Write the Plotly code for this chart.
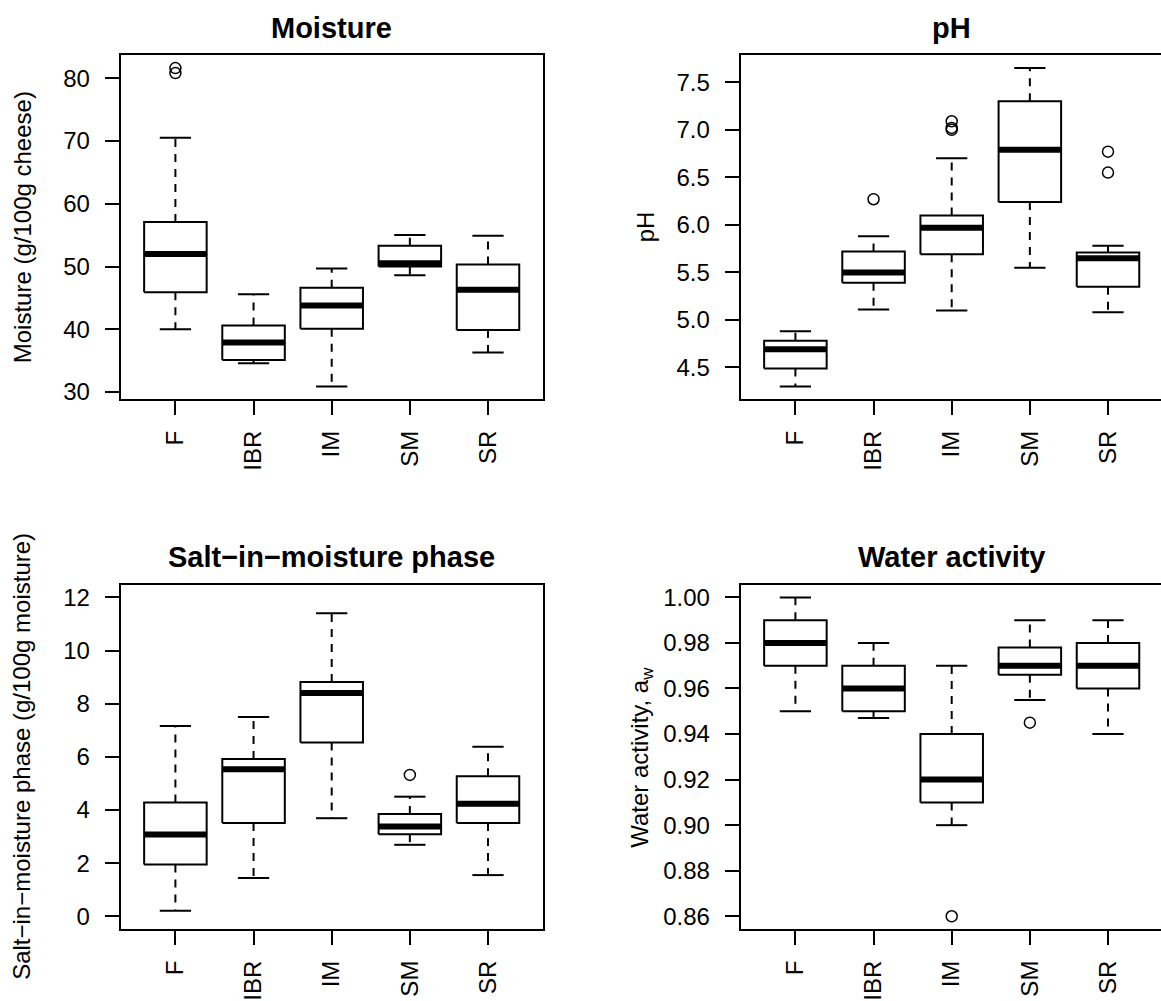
import plotly.graph_objects as go

# ---------------- data ----------------
categories = ["F", "IBR", "IM", "SM", "SR"]

moisture_lower = [40.0, 34.6, 30.9, 48.6, 36.3]
moisture_q1 = [45.9, 35.1, 40.1, 50.0, 39.9]
moisture_median = [52.0, 37.9, 43.8, 50.5, 46.3]
moisture_q3 = [57.1, 40.6, 46.6, 53.3, 50.3]
moisture_upper = [70.5, 45.6, 49.7, 55.0, 54.9]
moisture_outliers = [[80.8, 81.6], [], [], [], []]
moisture_ticks = [30, 40, 50, 60, 70, 80]

ph_lower = [4.30, 5.11, 5.10, 5.55, 5.08]
ph_q1 = [4.49, 5.39, 5.69, 6.24, 5.35]
ph_median = [4.69, 5.50, 5.97, 6.79, 5.65]
ph_q3 = [4.78, 5.72, 6.10, 7.30, 5.71]
ph_upper = [4.88, 5.88, 6.70, 7.65, 5.78]
ph_outliers = [[], [6.27], [7.00, 7.02, 7.09], [], [6.55, 6.77]]
ph_ticks = [4.5, 5.0, 5.5, 6.0, 6.5, 7.0, 7.5]

salt_lower = [0.21, 1.44, 3.69, 2.69, 1.55]
salt_q1 = [1.95, 3.51, 6.54, 3.09, 3.51]
salt_median = [3.08, 5.53, 8.40, 3.38, 4.23]
salt_q3 = [4.28, 5.92, 8.82, 3.85, 5.27]
salt_upper = [7.16, 7.50, 11.40, 4.50, 6.38]
salt_outliers = [[], [], [], [5.32], []]
salt_ticks = [0, 2, 4, 6, 8, 10, 12]
salt_ylim = [0, 12]

aw_lower = [0.950, 0.947, 0.900, 0.955, 0.940]
aw_q1 = [0.970, 0.950, 0.910, 0.966, 0.960]
aw_median = [0.980, 0.960, 0.920, 0.970, 0.970]
aw_q3 = [0.990, 0.970, 0.940, 0.978, 0.980]
aw_upper = [1.000, 0.980, 0.970, 0.990, 0.990]
aw_outliers = [[], [], [0.860], [0.945], []]
aw_ticks = [0.86, 0.88, 0.90, 0.92, 0.94, 0.96, 0.98, 1.00]

# ---------------- layout helpers ----------------
W, H = 1161, 1001
FONT = "Liberation Sans, Arial, sans-serif"
BOXW = 0.8          # R boxwex
STAPLE = 0.4        # staple width (0.5 * boxwex)
TICKFONT = 24
TITLEFONT = 29
ROW2 = 4            # small vertical nudge of the lower row

panels = [
    dict(title="Moisture", ylab="Moisture (g/100g cheese)",
         lo=moisture_lower, q1=moisture_q1, med=moisture_median, q3=moisture_q3,
         hi=moisture_upper, out=moisture_outliers, ticks=moisture_ticks, fmt="d", ylim=None,
         px=(120.7, 542.7, 55, 403), title_y=27, ylab_x=22),
    dict(title="pH", ylab="pH",
         lo=ph_lower, q1=ph_q1, med=ph_median, q3=ph_q3,
         hi=ph_upper, out=ph_outliers, ticks=ph_ticks, fmt=".1f", ylim=None,
         px=(740.7, 1162.7, 55, 403), title_y=27, ylab_x=645),
    dict(title="Salt\u2212in\u2212moisture phase", ylab="Salt\u2212in\u2212moisture phase (g/100g moisture)",
         lo=salt_lower, q1=salt_q1, med=salt_median, q3=salt_q3,
         hi=salt_upper, out=salt_outliers, ticks=salt_ticks, fmt="d", ylim=salt_ylim,
         px=(120.7, 542.7, 586.7 + ROW2, 935.3 + ROW2), title_y=559 + ROW2, ylab_x=22),
    dict(title="Water activity", ylab="Water activity, a<sub>w</sub>",
         lo=aw_lower, q1=aw_q1, med=aw_median, q3=aw_q3,
         hi=aw_upper, out=aw_outliers, ticks=aw_ticks, fmt=".2f", ylim=None,
         px=(740.7, 1162.7, 586.7 + ROW2, 935.3 + ROW2), title_y=559 + ROW2, ylab_x=642),
]

fig = go.Figure()
layout = dict(width=W, height=H, margin=dict(l=0, r=0, t=0, b=0),
              paper_bgcolor="white", plot_bgcolor="white", showlegend=False,
              font=dict(family=FONT, color="black", size=TICKFONT))
annotations = []

n = len(categories)
pos = list(range(1, n + 1))

for k, p in enumerate(panels, start=1):
    xa = "x" if k == 1 else f"x{k}"
    ya = "y" if k == 1 else f"y{k}"

    wx, wy = [], []
    cx, cy = [], []
    bx, by = [], []
    mx, my = [], []
    ox, oy = [], []
    for i, c in enumerate(categories):
        x = pos[i]
        wx += [x, x, None, x, x, None]
        wy += [p["q3"][i], p["hi"][i], None, p["q1"][i], p["lo"][i], None]
        cx += [x - STAPLE / 2, x + STAPLE / 2, None, x - STAPLE / 2, x + STAPLE / 2, None]
        cy += [p["hi"][i], p["hi"][i], None, p["lo"][i], p["lo"][i], None]
        bx += [x - BOXW / 2, x + BOXW / 2, x + BOXW / 2, x - BOXW / 2, x - BOXW / 2, None]
        by += [p["q1"][i], p["q1"][i], p["q3"][i], p["q3"][i], p["q1"][i], None]
        mx += [x - BOXW / 2, x + BOXW / 2, None]
        my += [p["med"][i], p["med"][i], None]
        for v in p["out"][i]:
            ox.append(x)
            oy.append(v)

    fig.add_trace(go.Scatter(x=wx, y=wy, mode="lines", xaxis=xa, yaxis=ya,
                             line=dict(color="black", width=2, dash="8px,7px"), hoverinfo="skip"))
    fig.add_trace(go.Scatter(x=cx, y=cy, mode="lines", xaxis=xa, yaxis=ya,
                             line=dict(color="black", width=2), hoverinfo="skip"))
    fig.add_trace(go.Scatter(x=bx, y=by, mode="lines", xaxis=xa, yaxis=ya,
                             fill="toself", fillcolor="white",
                             line=dict(color="black", width=2), hoverinfo="skip"))
    fig.add_trace(go.Scatter(x=mx, y=my, mode="lines", xaxis=xa, yaxis=ya,
                             line=dict(color="black", width=6), hoverinfo="skip"))
    fig.add_trace(go.Scatter(x=ox, y=oy, mode="markers", xaxis=xa, yaxis=ya,
                             marker=dict(symbol="circle-open", size=11, color="black",
                                         line=dict(width=1.5, color="black")),
                             hoverinfo="skip"))

    left, right, top, bottom = p["px"]
    xr = [0.3, n + 0.7]
    clipped = right > W
    if clipped:
        xr = [xr[0], xr[0] + (xr[1] - xr[0]) * (W - left) / (right - left)]
        right_dom = 1.0
    else:
        right_dom = right / W
    xdom = [left / W, right_dom]
    ydom = [1 - bottom / H, 1 - top / H]

    if p["ylim"] is None:
        vals = p["lo"] + p["hi"] + [v for o in p["out"] for v in o]
        lo, hi = min(vals), max(vals)
    else:
        lo, hi = p["ylim"]
    pad = 0.04 * (hi - lo)
    yr = [lo - pad, hi + pad]

    if p["fmt"] == "d":
        ticktext = [str(int(t)) for t in p["ticks"]]
    else:
        ticktext = [format(t, p["fmt"]) for t in p["ticks"]]

    xkey = "xaxis" if k == 1 else f"xaxis{k}"
    ykey = "yaxis" if k == 1 else f"yaxis{k}"
    layout[xkey] = dict(domain=xdom, range=xr, anchor=ya, tickmode="array",
                        tickvals=pos, ticktext=categories, tickangle=-90,
                        ticks="outside", ticklen=14, tickwidth=2, tickcolor="black",
                        showline=True, linewidth=2, linecolor="black", mirror=True,
                        showgrid=False, zeroline=False, ticklabelstandoff=6,
                        tickfont=dict(size=TICKFONT, family=FONT, color="black"), fixedrange=True)
    layout[ykey] = dict(domain=ydom, range=yr, anchor=xa, tickmode="array",
                        tickvals=p["ticks"], ticktext=ticktext,
                        ticks="outside", ticklen=14, tickwidth=2, tickcolor="black",
                        showline=True, linewidth=2, linecolor="black", mirror=not clipped,
                        showgrid=False, zeroline=False, ticklabelstandoff=10,
                        tickfont=dict(size=TICKFONT, family=FONT, color="black"), fixedrange=True)

    annotations.append(dict(text=f"<b>{p['title']}</b>", xref="paper", yref="paper",
                            x=(left + right) / 2 / W, y=1 - p["title_y"] / H,
                            xanchor="center", yanchor="middle", showarrow=False,
                            font=dict(size=TITLEFONT, family=FONT, color="black")))
    annotations.append(dict(text=p["ylab"], xref="paper", yref="paper",
                            x=p["ylab_x"] / W, y=1 - (top + bottom) / 2 / H,
                            xanchor="center", yanchor="middle", textangle=-90,
                            showarrow=False,
                            font=dict(size=TICKFONT, family=FONT, color="black")))

layout["annotations"] = annotations
fig.update_layout(**layout)
fig.write_html("out.html", config={"displayModeBar": False},
               post_script="document.body.style.margin='0px';"
                           "document.body.style.overflow='hidden';")
